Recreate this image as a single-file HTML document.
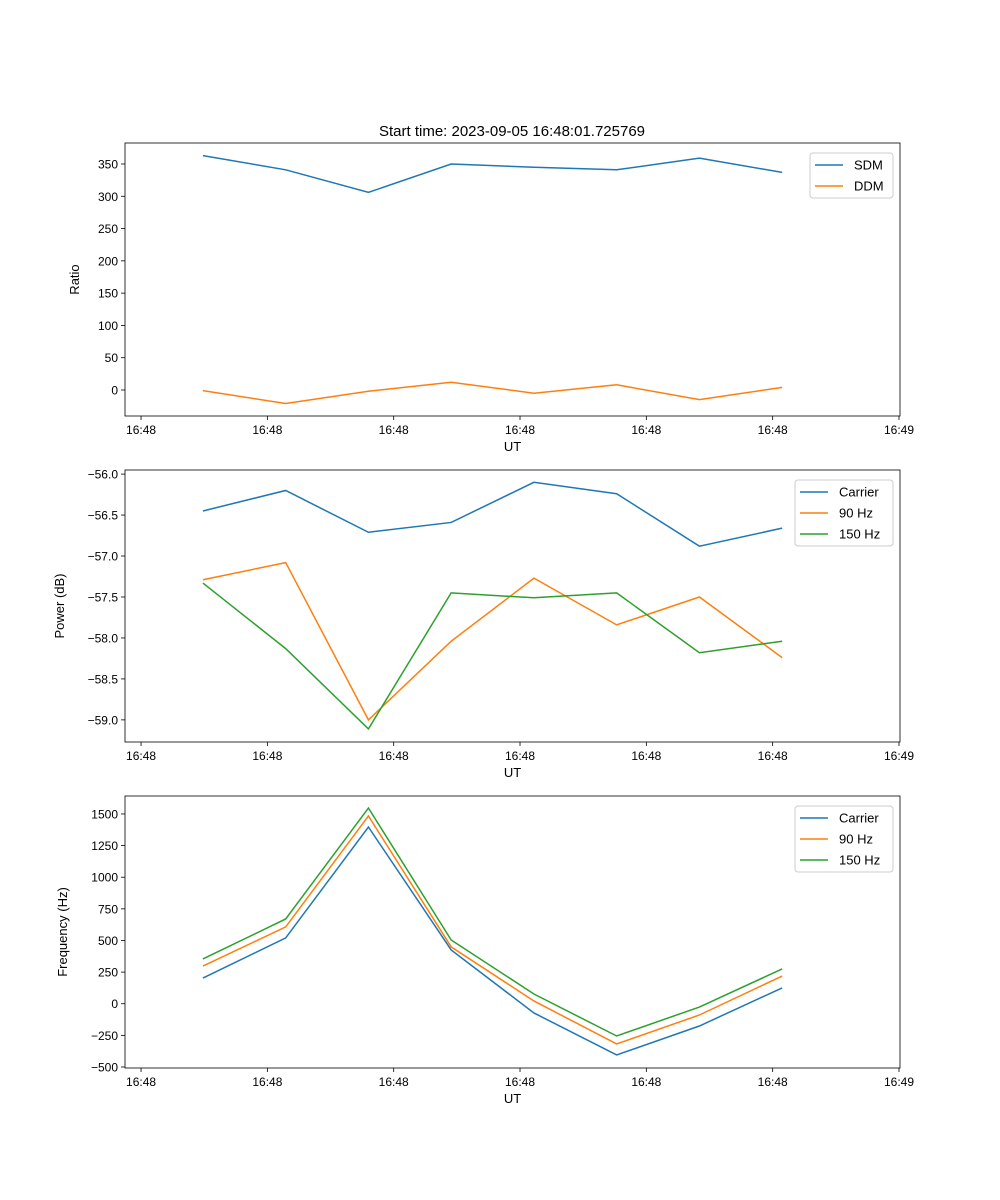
<!DOCTYPE html>
<html><head><meta charset="utf-8"><style>
body{margin:0;background:#fff}
svg{display:block;font-family:"Liberation Sans","DejaVu Sans",sans-serif}
</style></head><body>
<svg id="fig" width="1000" height="1200" xmlns="http://www.w3.org/2000/svg">
<text x="512" y="136" text-anchor="middle" font-size="15">Start time: 2023-09-05 16:48:01.725769</text>
</svg>
<script>
const times = [4.9, 11.45, 18.0, 24.55, 31.1, 37.65, 44.2, 50.75];
const xTicks = [0, 10, 20, 30, 40, 50, 60];
const xTickLabels = ["16:48","16:48","16:48","16:48","16:48","16:48","16:49"];
const sdm = [363, 341, 306, 350, 345, 341, 359, 337];
const ddm = [-1, -21, -2, 12, -5, 8, -15, 4];
const powCarrier = [-56.45, -56.2, -56.71, -56.59, -56.1, -56.24, -56.88, -56.66];
const pow90 = [-57.29, -57.08, -59.0, -58.04, -57.27, -57.84, -57.5, -58.24];
const pow150 = [-57.33, -58.13, -59.11, -57.45, -57.51, -57.45, -58.18, -58.04];
const freqCarrier = [203, 520, 1397, 425, -73, -405, -176, 125];
const freq90 = [298, 607, 1484, 449, 22, -318, -89, 219];
const freq150 = [354, 670, 1547, 504, 77, -255, -26, 275];
const ticks1 = [0, 50, 100, 150, 200, 250, 300, 350];
const ticks2 = [-56.0, -56.5, -57.0, -57.5, -58.0, -58.5, -59.0];
const ticks3 = [-500, -250, 0, 250, 500, 750, 1000, 1250, 1500];

const NS = "http://www.w3.org/2000/svg";
const svg = document.getElementById('fig');
function el(tag, attrs, parent){const e=document.createElementNS(NS,tag);for(const k in attrs)e.setAttribute(k,attrs[k]);(parent||svg).appendChild(e);return e;}
const L=125,R=900,xmin=-1.27,xmax=60.08;
const xs=v=>L+(v-xmin)/(xmax-xmin)*(R-L);
const C={blue:"#1f77b4",orange:"#ff7f0e",green:"#2ca02c"};

function panel(name,top,bot,ymin,ymax,yticks,fmt,ylabel,labX,series,legX,legW){
  const g=el('g',{});
  
  
  const ys=v=>bot-(v-ymin)/(ymax-ymin)*(bot-top);
  xTicks.forEach((t,i)=>{
    const x=xs(t);
    el('line',{x1:x,x2:x,y1:bot,y2:bot+4,stroke:'#000','stroke-width':0.8},g);
    const tx=el('text',{x:x,y:bot+18,'text-anchor':'middle','font-size':12},g);
    tx.textContent=xTickLabels[i];
    
    
  });
  yticks.forEach(v=>{
    const y=ys(v);
    el('line',{x1:L-4,x2:L,y1:y,y2:y,stroke:'#000','stroke-width':0.8},g);
    const tx=el('text',{x:L-7,y:y+4.5,'text-anchor':'end','font-size':12},g);
    tx.textContent=fmt(v);
    
    
  });
  const xl=el('text',{x:(L+R)/2,y:bot+35,'text-anchor':'middle','font-size':13},g);
  xl.textContent='UT';
  
  
  const cy=(top+bot)/2, cx=labX;
  const yl=el('text',{x:cx,y:cy,'text-anchor':'middle','font-size':13,transform:`rotate(-90 ${cx} ${cy})`},g);
  yl.textContent=ylabel;
  
  
  series.forEach(s=>{
    const p=el('polyline',{points:s.data.map((v,i)=>xs(times[i])+','+ys(v)).join(' '),fill:'none',stroke:s.color,'stroke-width':1.5},g);
    
    
  });
  el('rect',{x:L,y:top,width:R-L,height:bot-top,fill:'none',stroke:'#000','stroke-width':0.8},g);
  const lg=el('g',{},g);
  
  
  el('rect',{x:legX,y:top+10,width:legW,height:series.length*21+3,fill:'#fff',stroke:'#ccc',rx:3},lg);
  series.forEach((s,i)=>{
    const y=top+22+i*21;
    el('line',{x1:legX+5,x2:legX+33,y1:y,y2:y,stroke:s.color,'stroke-width':1.5},lg);
    const t=el('text',{x:legX+44,y:y+4.5,'font-size':13},lg);
    t.textContent=s.label;
    
    
  });
}
panel('ratio',143,416,-40.3,382.5,ticks1,v=>String(v),'Ratio',79,
  [{key:'sdm',label:'SDM',data:sdm,color:C.blue},{key:'ddm',label:'DDM',data:ddm,color:C.orange}],810,83);
panel('power',470,742,-59.27,-55.95,ticks2,v=>(v<0?'\u2212':'')+Math.abs(v).toFixed(1),'Power (dB)',64,
  [{key:'carrier',label:'Carrier',data:powCarrier,color:C.blue},{key:'90hz',label:'90 Hz',data:pow90,color:C.orange},{key:'150hz',label:'150 Hz',data:pow150,color:C.green}],795,98);
panel('frequency',796,1068,-508,1642,ticks3,v=>(v<0?'\u2212':'')+Math.abs(v),'Frequency (Hz)',67,
  [{key:'carrier',label:'Carrier',data:freqCarrier,color:C.blue},{key:'90hz',label:'90 Hz',data:freq90,color:C.orange},{key:'150hz',label:'150 Hz',data:freq150,color:C.green}],795,98);
</script>
</body></html>
